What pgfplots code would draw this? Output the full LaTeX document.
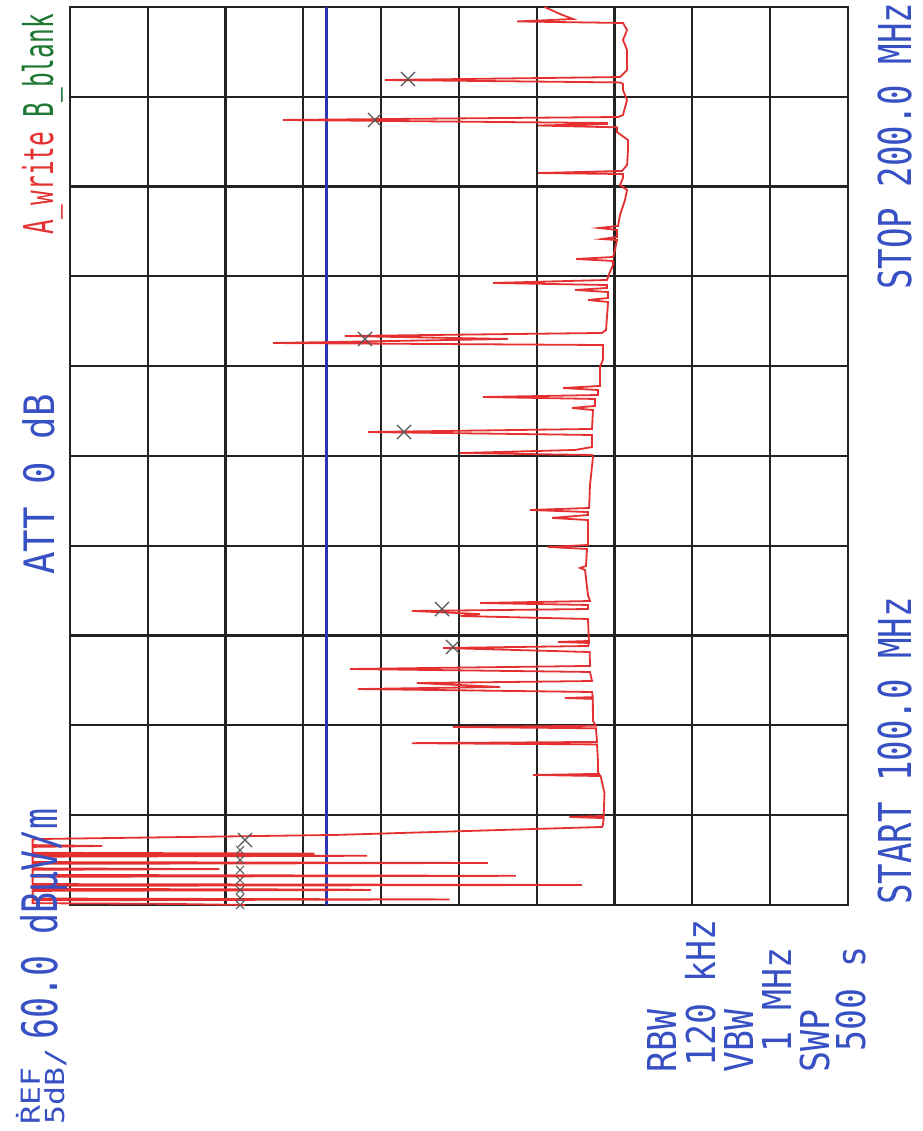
\documentclass[border=0pt]{standalone}
\usepackage{pgfplots}
\pgfplotsset{compat=1.18}
\usepackage{fontspec}
\usepackage{graphicx}
\newfontfamily\plotfont{DejaVu Sans Mono}
\definecolor{tred}{RGB}{228,48,48}
\definecolor{tblue}{RGB}{55,80,195}
\definecolor{lblue}{RGB}{40,55,175}
\definecolor{tgreen}{RGB}{30,120,50}
\definecolor{gridc}{RGB}{35,35,35}
\definecolor{mkc}{RGB}{85,85,85}
\newcommand{\ptxt}[3]{{\plotfont\fontsize{#1pt}{#1pt}\selectfont\scalebox{1}[#2]{#3}}}
\begin{document}
\begin{tikzpicture}
\useasboundingbox (0,0) rectangle (461pt,565.5pt);
\fill[white] (0,0) rectangle (461pt,565.5pt);
\begin{axis}[at={(35pt,113pt)}, anchor=south west, scale only axis,
  width=389pt, height=449pt,
  xmin=10, xmax=60, x dir=reverse, ymin=100, ymax=200,
  xtick={10,15,...,60}, ytick={100,110,...,200},
  xticklabels={}, yticklabels={}, major tick length=0pt,
  grid=major, major grid style={line width=1.1pt, draw=gridc},
  axis line style={line width=1.1pt, draw=gridc}, clip=false]
% limit line
\addplot[lblue, line width=1.4pt] coordinates {(43.5,100) (43.5,200)};
% trace A (dBuV/m, MHz)
\addplot[tred, line width=0.9pt] coordinates {
(48.75,100.00) (53.5,100.12) (62.4,100.20) (62.4,100.52) (35.6,100.62) (62.4,100.72)
(62.4,101.57) (40.66,101.67) (42.4,101.72) (62.4,101.80)
(62.4,102.13) (27.1,102.23) (62.4,102.33)
(62.4,103.14) (31.34,103.25) (62.4,103.35)
(62.4,103.92) (50.4,104.0) (62.4,104.08)
(62.4,104.58) (33.14,104.68) (62.4,104.78)
(62.4,105.38) (40.91,105.48) (62.4,105.58) (44.3,105.72) (62.4,105.82)
(62.4,106.47) (57.94,106.57) (62.4,106.67)
(62.4,107.3) (61.86,107.35) (42.97,107.80) (25.81,108.69)
(25.75,108.9) (25.7,109.68) (27.9,109.80) (25.7,109.92) (25.68,110.91) (25.65,112.5)
(25.9,114.36) (30.24,114.48) (26.0,114.60) (26.07,114.81) (26.07,116.15)
(26.13,117.88) (38.02,118.02) (26.13,118.16)
(26.2,119.68) (35.39,119.82) (26.2,119.96)
(26.39,120.5) (26.4,122.95) (28.19,123.05) (26.4,123.15)
(26.45,123.72) (41.49,124.05) (32.36,124.28) (37.70,124.72) (26.45,124.94)
(26.58,125.95) (42.01,126.28) (26.58,126.62)
(26.6,128.17) (36.03,128.62) (26.7,128.84)
(26.65,129.18) (28.64,129.29) (26.65,129.40)
(26.71,131.85) (34.9,132.18) (33.65,132.40) (38.02,132.74) (26.71,132.96)
(26.71,133.41) (33.65,133.63) (26.58,133.85)
(26.71,134.5) (26.9,137.31) (27.22,137.53) (26.84,137.75)
(26.77,139.65) (29.28,139.87) (26.71,140.09)
(26.71,142.87) (29.02,143.10) (26.71,143.43)
(26.71,143.76) (30.44,143.99) (26.64,144.21)
(26.58,146.77) (26.39,149.89)
(26.45,150.11) (34.94,150.33) (27.54,150.67) (26.45,151.0)
(26.45,152.34) (40.85,152.67) (26.45,153.01)
(26.39,155.12) (27.74,155.35) (26.26,155.57)
(26.26,156.35) (33.46,156.57) (26.07,156.79)
(26.07,157.35) (28.32,157.57) (25.94,157.80)
(25.94,159.91) (25.75,160.69) (25.75,162.36)
(46.95,162.58) (31.85,163.03) (42.33,163.36) (25.81,163.70)
(25.55,164.03) (25.42,167.15) (26.71,167.37) (25.42,167.59)
(25.42,168.26) (27.54,168.49) (25.49,168.71)
(25.49,169.04) (32.81,169.27) (25.49,169.60)
(25.30,170.49) (25.10,171.27) (25.10,171.72) (27.48,171.94) (25.10,172.16)
(24.97,172.94) (24.85,174.05) (25.81,174.16) (24.85,174.39)
(24.85,175.17) (26.0,175.39) (24.78,175.61)
(24.65,176.84) (24.33,178.51) (24.20,179.62) (24.65,180.18) (24.46,180.96)
(24.46,181.40) (29.92,181.51) (24.52,181.74)
(24.20,182.41) (24.14,184.0) (24.14,185.19) (24.85,186.08)
(24.85,186.6) (29.92,186.80) (25.49,186.97)
(25.49,187.08) (46.31,187.42) (24.78,187.75)
(24.46,187.97) (24.20,189.64) (24.46,190.76) (24.46,191.43)
(24.65,191.6) (39.76,191.87) (24.65,192.20)
(24.20,192.98) (24.20,195.21) (24.46,196.33) (24.20,197.44) (24.46,198.22)
(31.27,198.39) (27.67,198.66) (28.51,199.22) (29.5,200.00)
};
% markers
\addplot[only marks, mark=x, mark size=5pt, mkc, mark options={line width=0.6pt}] coordinates {
(38.28,191.98) (40.40,187.42) (41.04,163.03) (38.53,152.67) (36.09,132.96) (35.39,128.73) (48.75,107.24)
};
\addplot[only marks, mark=x, mark size=2.8pt, mkc, mark options={line width=0.5pt}] coordinates {
(49.07,106.12) (49.07,105.01) (49.07,103.90) (49.07,102.78) (49.07,101.67) (49.07,100.78) (49.07,100.0)
};
\end{axis}
% annotation texts (rotated)
\begin{scope}[every node/.style={rotate=90, anchor=base west, inner sep=0pt, text=tblue}]
\node at (20pt,3pt) {\ptxt{15.78}{0.83}{ṘEF}};
\node at (32pt,3pt) {\ptxt{15.78}{0.83}{5dB/}};
\node at (28.5pt,45.5pt) {\ptxt{17.44}{1.40}{60.0 dBµV/m}};
\node at (27pt,278pt) {\ptxt{18.7}{1.12}{ATT 0 dB}};
\node at (26.5pt,448pt) {\ptxt{12.2}{1.68}{\textcolor{tred}{A\_write} \textcolor{tgreen}{B\_blank}}};
\node at (455.5pt,113pt) {\ptxt{17.03}{1.33}{START 100.0 MHz}};
\node at (455.5pt,420.5pt) {\ptxt{17.03}{1.33}{STOP 200.0 MHz}};
\node at (338pt,29pt) {\ptxt{17.44}{1.14}{RBW}};
\node at (357.5pt,32pt) {\ptxt{17.44}{1.14}{120 kHz}};
\node at (376.5pt,29pt) {\ptxt{17.44}{1.14}{VBW}};
\node at (395.5pt,39pt) {\ptxt{17.44}{1.14}{1 MHz}};
\node at (414.5pt,29pt) {\ptxt{17.44}{1.14}{SWP}};
\node at (432.5pt,39.5pt) {\ptxt{17.44}{1.14}{500 s}};
\end{scope}
\end{tikzpicture}
\end{document}
